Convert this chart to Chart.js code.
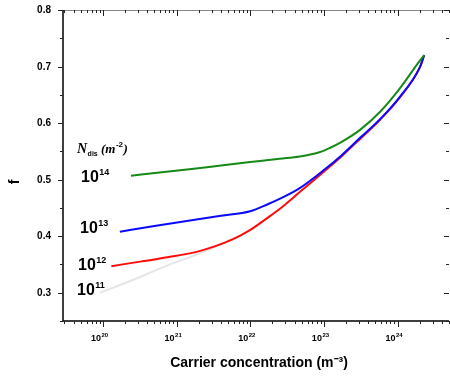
<!DOCTYPE html>
<html>
<head>
<meta charset="utf-8">
<script src="https://cdn.jsdelivr.net/npm/chart.js@4/dist/chart.umd.min.js"></script>
<style>
  html, body { margin: 0; padding: 0; background: #fff; }
  #wrap { width: 450px; height: 378px; }
</style>
</head>
<body>
<div id="wrap"><canvas id="fChart" width="450" height="378"></canvas></div>
<script>
// f vs carrier concentration, one curve per dislocation density
const x14 = [2.4e20, 6.3e20, 1.6e21, 4.0e21, 1.0e22, 2.5e22, 4.7e22, 8.9e22, 1.2e23, 1.7e23, 3.1e23, 5.8e23, 1.07e24, 2.0e24, 2.3e24];
const f14 = [0.507, 0.513, 0.519, 0.525, 0.531, 0.537, 0.541, 0.549, 0.556, 0.566, 0.588, 0.620, 0.661, 0.710, 0.720];

const x13 = [1.7e20, 5.0e20, 1.6e21, 4.0e21, 1.0e22, 1.7e22, 2.8e22, 4.7e22, 1.0e23, 1.7e23, 3.1e23, 5.8e23, 1.07e24, 2.0e24, 2.3e24];
const f13 = [0.408, 0.418, 0.428, 0.436, 0.444, 0.456, 0.469, 0.485, 0.517, 0.542, 0.574, 0.607, 0.646, 0.698, 0.720];

const x12 = [1.3e20, 3.2e20, 7.9e20, 2.1e21, 4.6e21, 7.1e21, 1.0e22, 1.7e22, 2.8e22, 4.7e22, 1.0e23, 1.7e23, 3.1e23, 5.8e23, 1.07e24, 2.0e24, 2.3e24];
const f12 = [0.347, 0.355, 0.363, 0.374, 0.389, 0.400, 0.411, 0.432, 0.453, 0.478, 0.514, 0.540, 0.572, 0.606, 0.645, 0.698, 0.720];

const x11 = [9.1e19, 2.5e20, 7.4e20, 2.0e21, 4.6e21, 7.1e21];
const f11 = [0.300, 0.322, 0.348, 0.369, 0.389, 0.400];

const curveLabels = ["14", "13", "12", "11"];   // exponents of N_dis
const xTickExps = [20, 21, 22, 23, 24];
const yTicks = [0.3, 0.4, 0.5, 0.6, 0.7, 0.8];

const toPts = (xs, ys) => xs.map((x, i) => ({ x, y: ys[i] }));

function line(data, color, width) {
  return {
    data,
    borderColor: color,
    borderWidth: width,
    pointRadius: 0,
    fill: false,
    cubicInterpolationMode: "monotone",
  };
}

// text with a superscript (or subscript) part
function supText(ctx, base, sup, x, y, font, supFont, dy) {
  ctx.font = font;
  ctx.fillText(base, x, y);
  const w = ctx.measureText(base).width;
  ctx.font = supFont;
  ctx.fillText(sup, x + w + 0.5, y + dy);
  return w + 0.5 + ctx.measureText(sup).width;
}

const framePlugin = {
  id: "frame",
  afterDraw(chart) {
    const { ctx, chartArea: a, scales } = chart;
    const xs = scales.x, ys = scales.y;
    ctx.save();

    // frame
    ctx.strokeStyle = "#888";
    ctx.lineWidth = 1;
    ctx.beginPath();
    ctx.moveTo(a.left, a.top + 0.5); ctx.lineTo(a.right, a.top + 0.5);
    ctx.stroke();
    ctx.strokeStyle = "#000";
    ctx.lineWidth = 1.5;
    ctx.beginPath();
    ctx.moveTo(a.left, a.top); ctx.lineTo(a.left, a.bottom);
    ctx.lineTo(a.right, a.bottom);
    ctx.stroke();

    // x ticks (log decades + minor)
    ctx.lineWidth = 1;
    ctx.strokeStyle = "#222";
    ctx.beginPath();
    for (let d = 19; d <= 24; d++) {
      for (let k = 1; k <= 9; k++) {
        const v = k * Math.pow(10, d);
        if (v < xs.min || v > xs.max) continue;
        const px = Math.round(xs.getPixelForValue(v)) + 0.5;
        const len = k === 1 ? 6 : 3;
        ctx.moveTo(px, a.bottom); ctx.lineTo(px, a.bottom + len);
        ctx.moveTo(px, a.top); ctx.lineTo(px, a.top + len);
      }
    }
    // y ticks
    for (let i = 5; i <= 16; i++) {
      const v = i * 0.05;
      if (v < ys.min - 1e-9 || v > ys.max + 1e-9) continue;
      const py = Math.round(ys.getPixelForValue(v)) + 0.5;
      const len = i % 2 === 0 ? 5 : 3;
      ctx.moveTo(a.left - len, py); ctx.lineTo(a.left, py);
      ctx.moveTo(a.right - len, py); ctx.lineTo(a.right, py);
    }
    ctx.stroke();

    ctx.fillStyle = "#000";
    // y tick labels
    ctx.textAlign = "right";
    ctx.textBaseline = "middle";
    ctx.font = "bold 10px Arial";
    yTicks.forEach(v => {
      ctx.fillText(v.toFixed(1), a.left - 12, ys.getPixelForValue(v) + 0.5);
    });

    // x tick labels 10^n
    ctx.textAlign = "left";
    ctx.textBaseline = "alphabetic";
    xTickExps.forEach(e => {
      const px = xs.getPixelForValue(Math.pow(10, e));
      supText(ctx, "10", String(e), px - 12, a.bottom + 20, "bold 9px Arial", "bold 6px Arial", -4);
    });

    // axis titles
    ctx.textAlign = "center";
    ctx.font = "bold 14px Arial";
    ctx.fillText("Carrier concentration (m\u207B\u00B3)", 259, 367);
    ctx.save();
    ctx.translate(19, 182);
    ctx.rotate(-Math.PI / 2);
    ctx.font = "bold 14px Arial";
    ctx.fillText("f", 0, 0);
    ctx.restore();

    // legend-like annotations
    ctx.textAlign = "left";
    const serif = "'Times New Roman', 'Liberation Serif', serif";
    const w1 = supText(ctx, "N", "dis", 77, 153, "italic bold 14px " + serif, "bold 7px Arial", 3);
    const w2 = supText(ctx, " (m", "-2", 77 + w1, 153, "italic bold 13px " + serif, "bold 8px Arial", -6);
    ctx.font = "italic bold 13px " + serif;
    ctx.fillText(")", 77 + w1 + w2 + 0.5, 153);

    const labPos = [[81, 182], [80, 233], [78, 270], [77, 295]];
    curveLabels.forEach((e, i) => {
      supText(ctx, "10", e, labPos[i][0], labPos[i][1], "bold 16px Arial", "bold 9px Arial", -7);
    });

    ctx.restore();
  },
};

new Chart(document.getElementById("fChart"), {
  type: "line",
  data: {
    datasets: [
      line(toPts(x14, f14), "#168a16", 2),
      line(toPts(x13, f13), "#0a0aff", 2),
      line(toPts(x12, f12), "#ff0a0a", 2),
      line(toPts(x11, f11), "#e6e6e6", 2),
    ],
  },
  options: {
    responsive: false,
    animation: false,
    layout: { padding: { top: 10, right: 1, left: 0, bottom: 0 } },
    plugins: { legend: { display: false }, tooltip: { enabled: false } },
    scales: {
      x: {
        type: "logarithmic",
        min: 2.87e19,
        max: 5.0e24,
        grid: { display: false },
        border: { display: false },
        ticks: { display: false },
        afterFit: s => { s.height = 57; },
      },
      y: {
        type: "linear",
        min: 0.25,
        max: 0.8,
        grid: { display: false },
        border: { display: false },
        ticks: { display: false },
        afterFit: s => { s.width = 63; },
      },
    },
  },
  plugins: [framePlugin],
});
</script>
</body>
</html>
